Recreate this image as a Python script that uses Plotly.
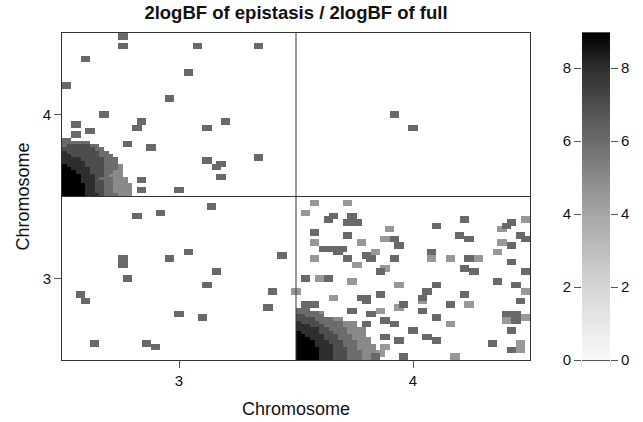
import numpy as np
import plotly.graph_objects as go

# ---------------- data ----------------
title_text = "2logBF of epistasis / 2logBF of full"
axis_title = "Chromosome"
chromosomes = [3, 4]
loci_per_chrom = 50
z_max = 8.96
color_ticks = [0, 2, 4, 6, 8]

level_values = {"D": 6.1, "L": 4.5}

# isolated significant positions (genome axis units) and their level
spot_x = [
    2.765, 2.753, 2.604, 3.087, 3.345, 3.048, 2.523, 2.969, 2.671, 2.832, 2.821, 2.564, 2.564,
    2.617, 3.129, 3.197, 2.513, 2.778, 2.886, 3.332, 3.128, 3.154, 3.184, 3.170, 2.845, 2.833, 2.993,
    3.926, 4.006,
    3.142, 2.821, 2.926, 2.765, 2.765, 2.969, 3.048, 3.439, 3.155, 2.778, 3.129, 3.397, 2.590,
    2.604, 3.385, 3.010, 3.095, 2.642, 2.859, 2.899,
    3.574, 3.711, 3.533, 3.670, 3.642, 3.749, 3.719, 3.751, 3.910, 4.100, 4.222, 4.412, 4.393,
    4.486, 3.574, 3.722, 3.872, 3.924, 3.944, 4.195, 4.249, 4.383, 4.383, 4.413, 4.452, 4.486,
    3.588, 3.778, 3.612, 3.653, 3.695, 3.688, 3.588, 3.724, 3.764, 3.809, 3.816, 3.842, 3.926,
    4.073, 4.073, 4.167, 4.236, 4.229, 4.261, 4.289, 4.355, 4.422, 4.486, 3.859, 3.888, 3.600,
    3.634, 3.546, 3.736, 3.939, 4.100, 4.355, 4.437, 3.510, 3.655, 3.781, 3.802, 3.805, 3.859,
    4.033, 4.044, 4.061, 4.222, 4.480, 4.466, 3.546, 3.588, 3.736, 3.930, 3.954, 4.034, 4.155,
    4.235, 3.818, 3.859, 3.880, 3.924, 3.805, 4.100, 4.168, 4.400, 4.440, 4.474, 4.406, 4.444,
    4.412, 4.007, 4.059, 4.090, 3.888, 3.936, 4.330, 4.453, 4.422, 4.465, 4.182, 3.882, 3.856,
    3.836, 3.953,
]
spot_y = [
    4.480, 4.413, 4.331, 4.425, 4.413, 4.266, 4.184, 4.104, 4.006, 3.956, 3.927, 3.931, 3.882,
    3.901, 3.927, 3.956, 3.846, 3.821, 3.809, 3.750, 3.723, 3.688, 3.697, 3.613, 3.591, 3.550, 3.550,
    4.006, 3.927,
    3.442, 3.389, 3.401, 3.124, 3.075, 3.130, 3.156, 3.144, 3.049, 3.008, 2.969, 2.928, 2.898,
    2.861, 2.818, 2.777, 2.765, 2.602, 2.602, 2.590,
    3.466, 3.452, 3.401, 3.389, 3.358, 3.389, 3.330, 3.330, 3.303, 3.320, 3.358, 3.344, 3.320,
    3.358, 3.279, 3.252, 3.238, 3.234, 3.197, 3.252, 3.238, 3.291, 3.226, 3.197, 3.252, 3.238,
    3.214, 3.214, 3.171, 3.171, 3.183, 3.156, 3.130, 3.130, 3.089, 3.142, 3.112, 3.156, 3.124,
    3.169, 3.116, 3.116, 3.112, 3.061, 3.050, 3.130, 3.156, 3.091, 3.046, 3.046, 3.061, 3.009,
    3.009, 2.994, 2.983, 2.953, 2.969, 2.983, 2.969, 2.912, 2.871, 2.871, 2.883, 2.850, 2.898,
    2.887, 2.867, 2.912, 2.898, 2.912, 2.863, 2.835, 2.847, 2.806, 2.822, 2.835, 2.806, 2.835,
    2.835, 2.777, 2.792, 2.740, 2.712, 2.724, 2.753, 2.712, 2.775, 2.775, 2.757, 2.732, 2.732,
    2.671, 2.671, 2.643, 2.618, 2.639, 2.622, 2.602, 2.602, 2.565, 2.551, 2.520, 2.572, 2.541,
    2.510, 2.510,
]
spot_level = (
    "DDDDDDDDDDDDDDDDDDDDDDDDDDD"
    "DD"
    "DDDDDDDDDDDDDDDDDDDD"
    "LLLDDDDDLDDDDLDDLDDDDLLDDD"
    "LLDDDDLDLDDLDDLLDDDLLDDDLLDDLL"
    "DDDLLDDDDDLDDLDDDDLDDDLDLDDDDL"
    "DDLLDDDDDDDDLDLLLLDDDDDDLDL"
)

# smooth high-evidence regions (digits = 2logBF level, '.' = empty), listed top row first
blob_a_x0, blob_a_y0 = 2.5, 3.5   # chr3 start x chr4 start
blob_a_rows = [
    "666666..........",
    "67777766........",
    "777777766.......",
    "8777777766......",
    "88777777666.....",
    "888877777666....",
    "888887777666....",
    "9888877776665...",
    "9988887776665...",
    "9998887776655...",
    "9999888776555...",
    "99998887666555..",
    "99998887766555..",
    "999998877665555.",
    "999998877665555.",
    "999998877665555.",
    "999998887666555.",
]
blob_b_x0, blob_b_y0 = 3.5, 2.5   # chr4 start x chr3 start
blob_b_rows = [
    "666...............",
    "666665............",
    "776666............",
    "7777666655........",
    "8777766666555.....",
    "8887776666555.....",
    "888887766665555...",
    "988887776665555...",
    "998888777666555...",
    "9998887776665555..",
    "9999888777666555..",
    "99998888776665555.",
    "99999888777665555.",
    "99999888777666555.",
    "999998887776665555",
    "999998887776665555",
]

# ---------------- build grid ----------------
lo = chromosomes[0] - 0.5
hi = chromosomes[-1] + 0.5
n = loci_per_chrom * len(chromosomes)
centers = lo + (np.arange(n) + 0.5) / loci_per_chrom
z = np.full((n, n), np.nan)


def put_blob(rows, x0, y0):
    c0 = int(round((x0 - lo) * loci_per_chrom))
    r0 = int(round((y0 - lo) * loci_per_chrom))
    for i, row in enumerate(reversed(rows)):
        for j, ch in enumerate(row):
            if ch != ".":
                z[r0 + i, c0 + j] = np.fmax(z[r0 + i, c0 + j], float(ch))


put_blob(blob_a_rows, blob_a_x0, blob_a_y0)
put_blob(blob_b_rows, blob_b_x0, blob_b_y0)

for x, y, lv in zip(spot_x, spot_y, spot_level):
    c = min(max(int(round((x - lo) * loci_per_chrom)) - 1, 0), n - 2)
    r = min(max(int(round((y - lo) * loci_per_chrom)) - 1, 0), n - 2)
    v = level_values[lv]
    z[r:r + 2, c:c + 2] = np.fmax(z[r:r + 2, c:c + 2], v)

zlist = [[None if np.isnan(v) else float(v) for v in row] for row in z]

colorscale = [
    [0.0, "#f9f9f9"],
    [2 / z_max, "#d6d6d6"],
    [4 / z_max, "#a6a6a6"],
    [6 / z_max, "#6c6c6c"],
    [8 / z_max, "#2e2e2e"],
    [1.0, "#000000"],
]

FONT = "Liberation Sans, Arial, sans-serif"
W, H = 643, 422
ml, mr, mt, mb = 62, 33, 33, 62
pw = W - ml - mr
main_right = 468 / pw
cb_left = (582 - ml) / pw

fig = go.Figure()
fig.add_trace(go.Heatmap(
    x=centers, y=centers, z=zlist, zmin=0, zmax=z_max,
    colorscale=colorscale, showscale=False, hoverongaps=False,
    xaxis="x", yaxis="y",
))

# colour key drawn as its own small axis pair (labels on both sides)
key_levels = np.linspace(0, z_max, 300)
fig.add_trace(go.Heatmap(
    x=[0], y=key_levels, z=[[v] for v in key_levels], zmin=0, zmax=z_max,
    colorscale=colorscale, showscale=False, xaxis="x2", yaxis="y2",
))
fig.add_trace(go.Scatter(x=[0], y=[0], mode="markers", marker=dict(opacity=0),
                         xaxis="x2", yaxis="y3", showlegend=False, hoverinfo="skip"))

# chromosome boundaries
for b in [c + 0.5 for c in chromosomes[:-1]]:
    fig.add_shape(type="line", xref="x", yref="y", x0=b, x1=b, y0=lo, y1=hi,
                  line=dict(color="#333333", width=1))
    fig.add_shape(type="line", xref="x", yref="y", x0=lo, x1=hi, y0=b, y1=b,
                  line=dict(color="#333333", width=1))

axis_common = dict(
    showgrid=False, zeroline=False, linecolor="#333333", linewidth=1,
    ticks="outside", ticklen=7, tickcolor="#555555", tickwidth=1, automargin=False,
    tickfont=dict(family=FONT, size=15, color="#111111"),
)

fig.update_layout(
    width=W, height=H,
    margin=dict(l=ml, r=mr, t=mt, b=mb, autoexpand=False),
    paper_bgcolor="white", plot_bgcolor="white",
    showlegend=False,
    title=dict(text="<b>" + title_text + "</b>", x=296 / W, xref="container", xanchor="center",
               y=1 - 13 / H, yref="container", yanchor="middle", automargin=False,
               font=dict(family=FONT, size=18.5, color="#111111")),
    xaxis=dict(domain=[0, main_right], range=[lo, hi], tickvals=chromosomes,
               ticktext=[str(c) for c in chromosomes], mirror=True, anchor="y", showline=True,
               title=dict(text=axis_title, font=dict(family=FONT, size=18, color="#111111"), standoff=14),
               **axis_common),
    yaxis=dict(domain=[0, 1], range=[lo, hi], tickvals=chromosomes,
               ticktext=[str(c) for c in chromosomes], mirror=True, anchor="x", showline=True,
               title=dict(text=axis_title, font=dict(family=FONT, size=18, color="#111111"), standoff=8),
               **axis_common),
    xaxis2=dict(domain=[cb_left, 1], range=[-0.5, 0.5], showticklabels=False, ticks="",
                showgrid=False, zeroline=False, showline=True, mirror=True,
                linecolor="#555555", linewidth=1, anchor="y2"),
    yaxis2=dict(domain=[0, 1], range=[0, z_max], tickvals=color_ticks, side="left", anchor="x2",
                showline=False, **axis_common),
    yaxis3=dict(domain=[0, 1], range=[0, z_max], tickvals=color_ticks, side="right", anchor="x2",
                overlaying="y2", showline=False, **axis_common),
)

fig.write_html("out.html", config={"displayModeBar": False},
               post_script="document.body.style.margin='0';document.body.style.overflow='hidden';")
